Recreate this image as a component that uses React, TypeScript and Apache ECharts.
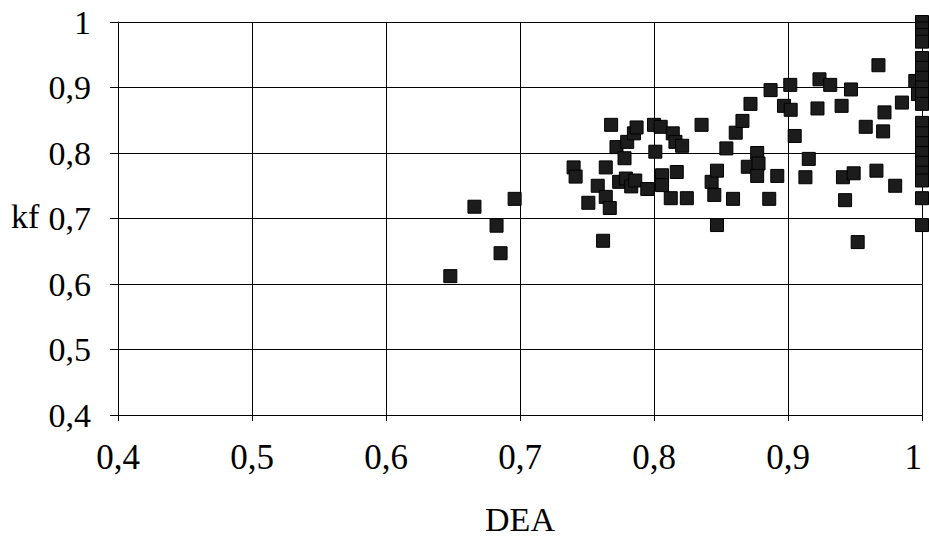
import React, { useEffect, useRef } from "react";
import * as echarts from "echarts";

const xTicks = [0.4, 0.5, 0.6, 0.7, 0.8, 0.9, 1];
const yTicks = [0.4, 0.5, 0.6, 0.7, 0.8, 0.9, 1];
const xName = "DEA";
const yName = "kf";

// [DEA, kf]
const points: [number, number][] = [
  [0.648, 0.612], [0.666, 0.718], [0.6825, 0.689], [0.6855, 0.647], [0.696, 0.73],
  [0.74, 0.778], [0.7415, 0.764], [0.751, 0.724], [0.758, 0.75], [0.762, 0.666],
  [0.764, 0.778], [0.764, 0.733], [0.767, 0.716], [0.768, 0.843], [0.772, 0.809],
  [0.774, 0.756], [0.778, 0.792], [0.779, 0.761], [0.78, 0.817], [0.783, 0.749],
  [0.785, 0.83], [0.786, 0.758], [0.787, 0.839], [0.795, 0.745], [0.8, 0.843],
  [0.801, 0.802], [0.805, 0.84], [0.806, 0.766], [0.806, 0.751], [0.8125, 0.731],
  [0.814, 0.83], [0.816, 0.817], [0.817, 0.771], [0.821, 0.811], [0.8245, 0.731],
  [0.8355, 0.843], [0.843, 0.756], [0.847, 0.773], [0.845, 0.736], [0.847, 0.69],
  [0.854, 0.807], [0.859, 0.73], [0.861, 0.831], [0.866, 0.849], [0.87, 0.779],
  [0.872, 0.875], [0.877, 0.8], [0.878, 0.784], [0.877, 0.765], [0.886, 0.73],
  [0.887, 0.896], [0.892, 0.765], [0.897, 0.872], [0.902, 0.866], [0.9017, 0.904],
  [0.905, 0.826], [0.913, 0.763], [0.9155, 0.791], [0.922, 0.868], [0.9235, 0.9125],
  [0.9315, 0.904], [0.94, 0.872], [0.941, 0.763], [0.9426, 0.728], [0.947, 0.897],
  [0.949, 0.769], [0.952, 0.664], [0.958, 0.84], [0.966, 0.773], [0.9675, 0.934],
  [0.971, 0.833], [0.972, 0.862], [0.98, 0.75], [0.985, 0.877], [0.995, 0.91],
  [0.997, 0.89],
  [1, 1.0], [1, 0.99], [1, 0.98], [1, 0.97], [1, 0.945], [1, 0.93], [1, 0.915],
  [1, 0.9], [1, 0.89], [1, 0.875], [1, 0.846], [1, 0.83], [1, 0.815], [1, 0.8],
  [1, 0.785], [1, 0.77], [1, 0.758], [1, 0.731], [1, 0.69],
];

const FONT = "Liberation Serif";
const fmt = (v: number) => String(+v.toFixed(1)).replace(".", ",");

export default function App() {
  const ref = useRef<HTMLDivElement>(null);
  useEffect(() => {
    if (!ref.current) return;
    const chart = echarts.init(ref.current, null, { renderer: "svg" });
    chart.setOption({
      animation: false,
      backgroundColor: "#fff",
      grid: { left: 118, top: 22, right: 7, bottom: 122, containLabel: false, outerBoundsMode: "none" },
      xAxis: {
        type: "value",
        min: xTicks[0],
        max: xTicks[xTicks.length - 1],
        interval: 0.1,
        name: xName,
        nameLocation: "middle",
        nameGap: 87,
        nameTextStyle: { fontFamily: FONT, fontSize: 34, color: "#000" },
        axisLine: { show: true, lineStyle: { color: "#000", width: 1 } },
        axisTick: { show: true, length: 6, lineStyle: { color: "#000" } },
        axisLabel: {
          formatter: fmt,
          fontFamily: FONT,
          fontSize: 35,
          color: "#000",
          margin: 25,
          alignMaxLabel: "right",
        },
        splitLine: { show: true, lineStyle: { color: "#000", width: 1 } },
      },
      yAxis: {
        type: "value",
        min: yTicks[0],
        max: yTicks[yTicks.length - 1],
        interval: 0.1,
        axisLine: { show: true, lineStyle: { color: "#000", width: 1 } },
        axisTick: { show: true, length: 8, lineStyle: { color: "#000" } },
        axisLabel: { formatter: fmt, fontFamily: FONT, fontSize: 34, color: "#000", margin: 27 },
        splitLine: { show: true, lineStyle: { color: "#000", width: 1 } },
      },
      graphic: [
        {
          type: "text",
          left: 11,
          top: 199,
          style: { text: yName, fontFamily: FONT, fontSize: 34, fill: "#000" },
        },
      ],
      series: [
        {
          type: "scatter",
          data: points,
          symbol: "rect",
          symbolSize: 13,
          clip: false,
          itemStyle: { color: "#1c1c1c", borderColor: "#000", borderWidth: 1, opacity: 1 },
        },
      ],
    });
    return () => chart.dispose();
  }, []);
  return <div ref={ref} style={{ width: 929, height: 537, position: "absolute", left: 0, top: 0 }} />;
}
